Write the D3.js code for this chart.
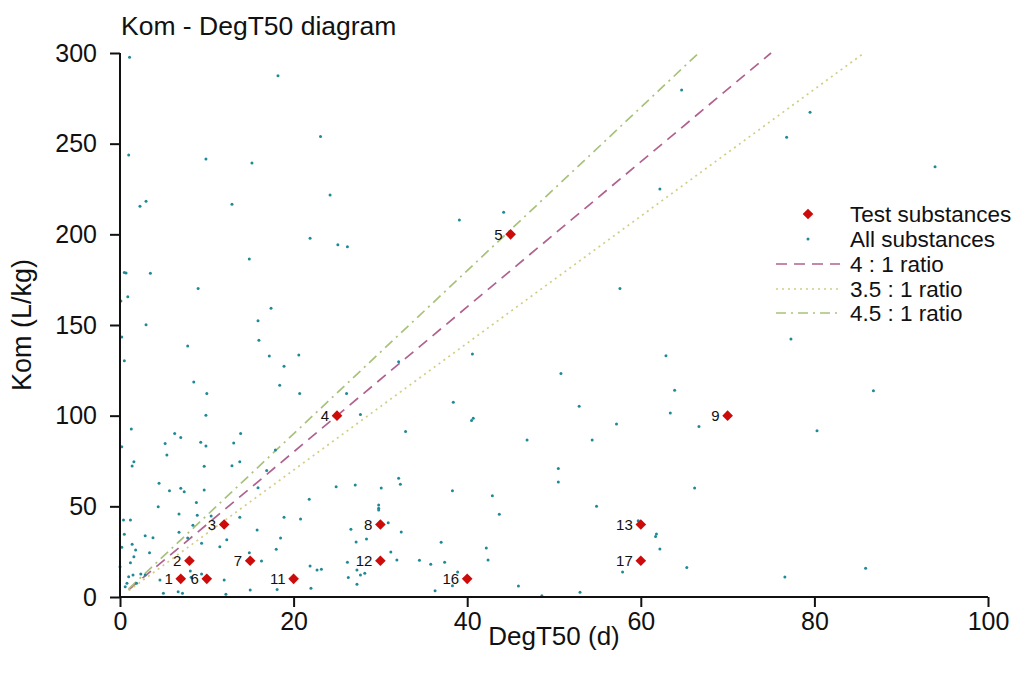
<!DOCTYPE html>
<html>
<head>
<meta charset="utf-8">
<script src="https://cdn.jsdelivr.net/npm/d3@7"></script>
<style>
  body { margin: 0; background: #fff; }
  text { font-family: "Liberation Sans", Arial, sans-serif; fill: #111; }
</style>
</head>
<body>
<svg id="chart" width="1020" height="673"></svg>
<script>
// --- data ---
var testLabels = ["1", "2", "3", "4", "5", "6", "7", "8", "9", "11", "12", "13", "16", "17"];
var testDegT50 = [7, 8, 12, 25, 45, 10, 15, 30, 70, 20, 30, 60, 40, 60];
var testKom = [10, 20, 40, 100, 200, 10, 20, 40, 100, 10, 20, 40, 10, 20];

// all substances, [DegT50, Kom]
var allSubstances = [
  [1.1, 297.7], [18.2, 287.4], [23.1, 253.9], [1.0, 243.8], [9.9, 241.6], [15.2, 239.4],
  [2.3, 215.5], [3.0, 218.3], [12.9, 216.6], [24.2, 221.7], [21.9, 197.8], [25.1, 194.2],
  [26.2, 193.2], [14.9, 186.4], [0.5, 178.9], [0.7, 178.7], [3.5, 178.5], [9.0, 170.1],
  [0.1, 163.3], [0.9, 165.6], [17.4, 159.2], [3.0, 150.2], [15.9, 152.4], [0.2, 143.4],
  [16.0, 141.6], [7.8, 138.4], [0.5, 130.3], [17.2, 132.9], [20.6, 133.5], [18.9, 127.2],
  [8.5, 118.6], [18.4, 116.8], [10.0, 112.2], [20.7, 112.2], [32.1, 129.8], [26.1, 112.2],
  [27.7, 100.6], [9.9, 100.2], [1.3, 92.7], [6.3, 90.1], [7.0, 87.9], [5.2, 84.6],
  [9.3, 85.3], [9.9, 83.3], [13.9, 90.1], [13.1, 84.9], [32.9, 91.2], [0.2, 82.9],
  [5.4, 78.3], [1.6, 74.6], [1.4, 72.3], [9.7, 72.1], [12.9, 72.4], [13.8, 74.6],
  [17.9, 81.1], [4.5, 62.7], [5.7, 58.6], [7.0, 60.0], [7.4, 58.1], [9.7, 59.0],
  [15.9, 60.3], [16.9, 69.7], [24.9, 60.8], [27.1, 61.8], [30.1, 60.1], [32.1, 65.5],
  [32.3, 62.2], [8.8, 52.1], [4.4, 49.8], [21.8, 53.9], [29.8, 50.7], [29.8, 48.9],
  [29.8, 48.0], [0.4, 42.5], [1.2, 42.5], [6.8, 45.8], [8.9, 45.1], [10.5, 44.7],
  [13.8, 44.0], [18.9, 44.0], [20.8, 43.0], [30.9, 41.0], [8.4, 39.5], [0.5, 34.6],
  [2.9, 33.8], [3.8, 32.7], [6.8, 35.7], [7.8, 32.5], [9.4, 29.6], [12.3, 31.6],
  [15.8, 37.0], [11.5, 27.7], [18.5, 32.5], [18.0, 26.3], [26.6, 37.3], [28.4, 32.0],
  [27.2, 30.3], [32.4, 35.9], [0.2, 27.4], [1.4, 29.1], [1.8, 25.9], [3.4, 24.4],
  [1.6, 22.2], [1.2, 18.9], [14.9, 24.4], [16.3, 19.9], [31.2, 24.8], [31.9, 20.4],
  [26.2, 19.1], [21.9, 17.1], [22.7, 14.9], [23.2, 15.3], [0.0, 16.7], [2.4, 12.7],
  [2.9, 12.1], [1.5, 12.1], [1.0, 11.2], [4.6, 9.4], [8.1, 14.3], [8.2, 10.9],
  [9.4, 12.7], [12.0, 9.4], [0.8, 7.6], [0.6, 5.7], [1.9, 7.6], [5.0, 2.0],
  [6.7, 2.9], [7.2, 2.0], [12.2, 1.5], [15.0, 3.9], [18.1, 4.2], [27.3, 14.9],
  [27.7, 12.1], [28.2, 13.1], [26.3, 10.7], [27.3, 7.0], [22.0, 4.8], [38.3, 58.6],
  [42.9, 55.9], [43.7, 45.6], [50.5, 70.8], [50.5, 63.4], [54.4, 86.6], [46.9, 86.6],
  [54.9, 50.0], [66.2, 60.1], [37.0, 30.2], [42.2, 27.0], [42.4, 20.4], [34.5, 20.2],
  [35.8, 18.0], [37.4, 19.1], [38.9, 13.8], [38.3, 6.2], [36.3, 3.5], [45.9, 6.1],
  [48.6, 0.7], [53.0, 2.6], [59.7, 42.1], [61.8, 34.7], [61.7, 33.3], [62.2, 26.5],
  [57.9, 13.8], [65.3, 16.2], [57.6, 170.1], [40.6, 134.0], [62.9, 133.1], [50.8, 123.2],
  [63.9, 114.0], [38.4, 107.4], [52.9, 105.2], [63.4, 101.5], [40.5, 97.3], [40.7, 98.6],
  [57.2, 95.4], [66.7, 94.0], [64.7, 279.6], [62.2, 225.0], [39.1, 207.9], [44.2, 212.2],
  [79.5, 267.3], [76.8, 253.5], [93.9, 237.3], [77.3, 142.3], [86.8, 113.8], [80.3, 91.7],
  [76.6, 11.0], [85.9, 15.8]
];

var ratioNames = ["4 : 1 ratio", "3.5 : 1 ratio", "4.5 : 1 ratio"];
var ratioValues = [4, 3.5, 4.5];
var ratioColors = ["#b0628e", "#d2cd84", "#a8c27a"];
var ratioDash = ["11,7", "2,4", "10,5,2,5"];

var xTicks = [0, 20, 40, 60, 80, 100];
var yTicks = [0, 50, 100, 150, 200, 250, 300];

// --- layout ---
var svg = d3.select("#chart");
var x = d3.scaleLinear().domain([0, 100]).range([120, 988]);
var y = d3.scaleLinear().domain([0, 300]).range([597, 53]);

// ratio lines
ratioValues.forEach(function(r, i) {
	var x0 = 1, x1 = Math.min(100, 300 / r);
	svg.append("line")
		.attr("x1", x(x0)).attr("y1", y(r * x0))
		.attr("x2", x(x1)).attr("y2", y(r * x1))
		.attr("stroke", ratioColors[i])
		.attr("stroke-width", 1.7)
		.attr("stroke-dasharray", ratioDash[i]);
});

// all substances
svg.append("g").selectAll("circle").data(allSubstances)
	.enter().append("circle")
	.attr("cx", function(d) { return x(d[0]); })
	.attr("cy", function(d) { return y(d[1]); })
	.attr("r", 1.5)
	.attr("fill", "#1f8a97");

// test substances
var diamond = d3.symbol().type(d3.symbolDiamond2).size(72);
var tests = testLabels.map(function(l, i) { return {label: l, dt: testDegT50[i], kom: testKom[i]}; });
var tg = svg.append("g").selectAll("g").data(tests).enter().append("g")
	.attr("transform", function(d) { return "translate(" + x(d.dt) + "," + y(d.kom) + ")"; });
tg.append("path").attr("d", diamond).attr("fill", "#cc0b0b");
tg.append("text")
	.attr("x", -8).attr("y", 5.5)
	.attr("text-anchor", "end")
	.style("font-size", "15px")
	.text(function(d) { return d.label; });

// axes
var xAxis = svg.append("g").attr("transform", "translate(0,597)")
	.call(d3.axisBottom(x).tickValues(xTicks).tickSize(10).tickPadding(5).tickFormat(d3.format("d")));
var yAxis = svg.append("g").attr("transform", "translate(120,0)")
	.call(d3.axisLeft(y).tickValues(yTicks).tickSize(10).tickPadding(13).tickFormat(d3.format("d")));
[xAxis, yAxis].forEach(function(a) {
	a.select(".domain").attr("stroke", "#111").attr("stroke-width", 2);
	a.selectAll(".tick line").attr("stroke", "#111").attr("stroke-width", 2);
	a.selectAll(".tick text").style("font-size", "25px").style("font-family", "Liberation Sans, Arial, sans-serif").attr("fill", "#111");
});
xAxis.select(".domain").attr("d", "M120,0H988");
yAxis.select(".domain").attr("d", "M0,597V53");

// titles
svg.append("text").attr("x", 121).attr("y", 35).style("font-size", "26.5px").text("Kom - DegT50 diagram");
svg.append("text").attr("x", x(50)).attr("y", 645).attr("text-anchor", "middle")
	.style("font-size", "26px").text("DegT50 (d)");
svg.append("text").attr("transform", "translate(31," + y(150) + ") rotate(-90)")
	.attr("text-anchor", "middle").style("font-size", "27px").text("Kom (L/kg)");

// legend
var lg = svg.append("g");
var rowY = [214, 239, 264, 289, 313];
var legendNames = ["Test substances", "All substances"].concat(ratioNames);
legendNames.forEach(function(n, i) {
	lg.append("text").attr("x", 850).attr("y", rowY[i] + 8).style("font-size", "22.5px").text(n);
});
lg.append("path").attr("d", diamond).attr("fill", "#cc0b0b").attr("transform", "translate(808," + rowY[0] + ")");
lg.append("circle").attr("cx", 808).attr("cy", rowY[1]).attr("r", 1.5).attr("fill", "#1f8a97");
ratioNames.forEach(function(n, i) {
	lg.append("line").attr("x1", 776).attr("x2", 840)
		.attr("y1", rowY[i + 2]).attr("y2", rowY[i + 2])
		.attr("stroke", ratioColors[i]).attr("stroke-width", 1.7)
		.attr("stroke-dasharray", ratioDash[i]);
});
</script>
</body>
</html>
